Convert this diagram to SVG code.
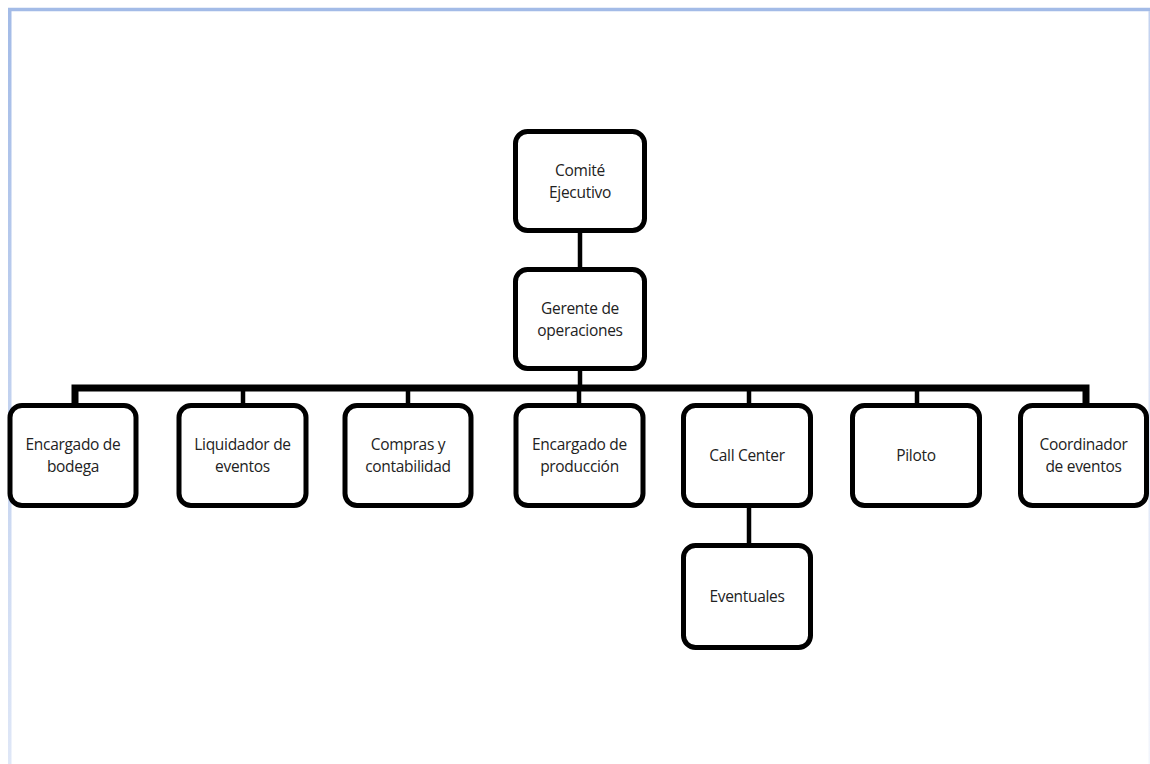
<svg xmlns="http://www.w3.org/2000/svg" width="1150" height="764" viewBox="0 0 1150 764">
  <defs>
    <linearGradient id="fadeL" x1="0" y1="0" x2="0" y2="1">
      <stop offset="0" stop-color="#a3bbe7"/>
      <stop offset="1" stop-color="#dfe7f7"/>
    </linearGradient>
    <linearGradient id="fadeR" x1="0" y1="0" x2="0" y2="1">
      <stop offset="0" stop-color="#c3d2ef"/>
      <stop offset="1" stop-color="#f2f5fc"/>
    </linearGradient>
  </defs>
  <style>
    .box { fill: #ffffff; stroke: #000000; stroke-width: 5; }
    .lbl { font-family: "Open Sans", "DejaVu Sans", sans-serif; font-size: 15.5px; fill: #222222; text-anchor: middle; letter-spacing: -0.3px; }
    .con { stroke: #000000; stroke-width: 4.5; fill: none; }
    .bus { stroke: #000000; stroke-width: 7; fill: none; }
  </style>
  <rect width="1150" height="764" fill="#ffffff"/>
  <g id="frame">
    <line x1="8" y1="9.5" x2="1150" y2="9.5" stroke="#a3bbe7" stroke-width="3.5"/>
    <rect x="8" y="8" width="3.5" height="756" fill="url(#fadeL)"/>
    <rect x="1148.5" y="11" width="1.5" height="753" fill="url(#fadeR)"/>
  </g>
  <g id="connectors">
    <line class="con" x1="580" y1="233" x2="580" y2="268"/>
    <line class="con" x1="580" y1="370" x2="580" y2="388"/>
    <polyline class="bus" points="75,404 75,388 1086,388 1086,404"/>
    <line class="con" x1="243" y1="388" x2="243" y2="404"/>
    <line class="con" x1="408" y1="388" x2="408" y2="404"/>
    <line class="con" x1="579" y1="388" x2="579" y2="404"/>
    <line class="con" x1="749" y1="388" x2="749" y2="404"/>
    <line class="con" x1="917" y1="388" x2="917" y2="404"/>
    <line class="con" x1="749" y1="507" x2="749" y2="544"/>
  </g>
  <g id="comite">
    <rect class="box" x="515.5" y="131.5" width="129" height="99" rx="12"/>
    <text class="lbl" x="580" y="176">Comité</text>
    <text class="lbl" x="580" y="198">Ejecutivo</text>
  </g>
  <g id="gerente">
    <rect class="box" x="515.5" y="269.5" width="129" height="99" rx="12"/>
    <text class="lbl" x="580" y="314">Gerente de</text>
    <text class="lbl" x="580" y="336">operaciones</text>
  </g>
  <g id="bodega">
    <rect class="box" x="10" y="405.5" width="126" height="100" rx="12"/>
    <text class="lbl" x="73" y="450">Encargado de</text>
    <text class="lbl" x="73" y="472">bodega</text>
  </g>
  <g id="liquidador">
    <rect class="box" x="179" y="405.5" width="127" height="100" rx="12"/>
    <text class="lbl" x="242.5" y="450">Liquidador de</text>
    <text class="lbl" x="242.5" y="472">eventos</text>
  </g>
  <g id="compras">
    <rect class="box" x="345" y="405.5" width="126" height="100" rx="12"/>
    <text class="lbl" x="408" y="450">Compras y</text>
    <text class="lbl" x="408" y="472">contabilidad</text>
  </g>
  <g id="produccion">
    <rect class="box" x="516" y="405.5" width="127" height="100" rx="12"/>
    <text class="lbl" x="579.5" y="450">Encargado de</text>
    <text class="lbl" x="579.5" y="472">producción</text>
  </g>
  <g id="callcenter">
    <rect class="box" x="683.5" y="405.5" width="127" height="100" rx="12"/>
    <text class="lbl" x="747" y="461">Call Center</text>
  </g>
  <g id="piloto">
    <rect class="box" x="852.5" y="405.5" width="127" height="100" rx="12"/>
    <text class="lbl" x="916" y="461">Piloto</text>
  </g>
  <g id="coordinador">
    <rect class="box" x="1020.5" y="405.5" width="126" height="100" rx="12"/>
    <text class="lbl" x="1083.5" y="450">Coordinador</text>
    <text class="lbl" x="1083.5" y="472">de eventos</text>
  </g>
  <g id="eventuales">
    <rect class="box" x="683.5" y="545.5" width="127" height="102" rx="12"/>
    <text class="lbl" x="747" y="602">Eventuales</text>
  </g>
</svg>
